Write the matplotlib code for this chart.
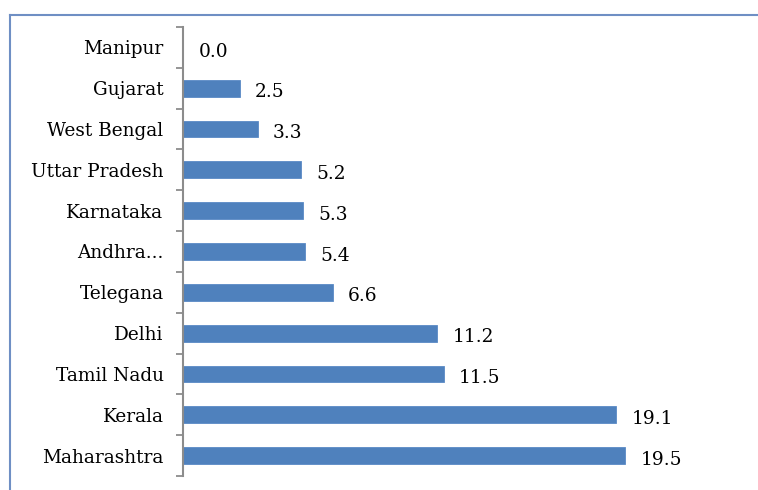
import matplotlib.pyplot as plt
from matplotlib.lines import Line2D

# data (top to bottom)
states = ['Manipur', 'Gujarat', 'West Bengal', 'Uttar Pradesh', 'Karnataka',
          'Andhra...', 'Telegana', 'Delhi', 'Tamil Nadu', 'Kerala', 'Maharashtra']
values = [0.0, 2.5, 3.3, 5.2, 5.3, 5.4, 6.6, 11.2, 11.5, 19.1, 19.5]

plt.rcParams['font.family'] = ['DejaVu Serif']

fig = plt.figure(figsize=(7.58, 4.90), dpi=100)
ax = fig.add_axes([183 / 758, 1 - 476 / 490, (750 - 183) / 758, (476 - 27) / 490])

pos = list(range(len(states)))
ax.barh(pos, values, height=0.41, color='#4F81BD', edgecolor='#5A8AC6', linewidth=0.6)
ax.set_ylim(len(states) - 0.5, -0.5)
ax.set_xlim(0, 25)

# value labels to the right of each bar
for y, v in zip(pos, values):
    ax.annotate(f'{v:.1f}', (v, y), xytext=(11, -3), textcoords='offset points',
                ha='left', va='center', fontsize=13.4, color='black')

ax.set_yticks(pos)
ax.set_yticklabels(states, fontsize=13.3)
ax.tick_params(axis='y', which='major', length=0, pad=14)
ax.set_yticks([p - 0.5 for p in pos] + [len(states) - 0.5], minor=True)
ax.tick_params(axis='y', which='minor', length=5, width=1.3, color='#8C8C8C', direction='out')
ax.set_xticks([])

for side in ['top', 'right', 'bottom']:
    ax.spines[side].set_visible(False)
ax.spines['left'].set_color('#8C8C8C')
ax.spines['left'].set_linewidth(1.5)

# chart-area frame (top and left edges visible in the picture)
frame = '#6F8FC4'
fig.add_artist(Line2D([10 / 758, 1], [1 - 15 / 490, 1 - 15 / 490], color=frame, lw=1.5,
                      transform=fig.transFigure))
fig.add_artist(Line2D([10 / 758, 10 / 758], [0, 1 - 15 / 490], color=frame, lw=1.5,
                      transform=fig.transFigure))

fig.savefig('out.png', dpi=100)
